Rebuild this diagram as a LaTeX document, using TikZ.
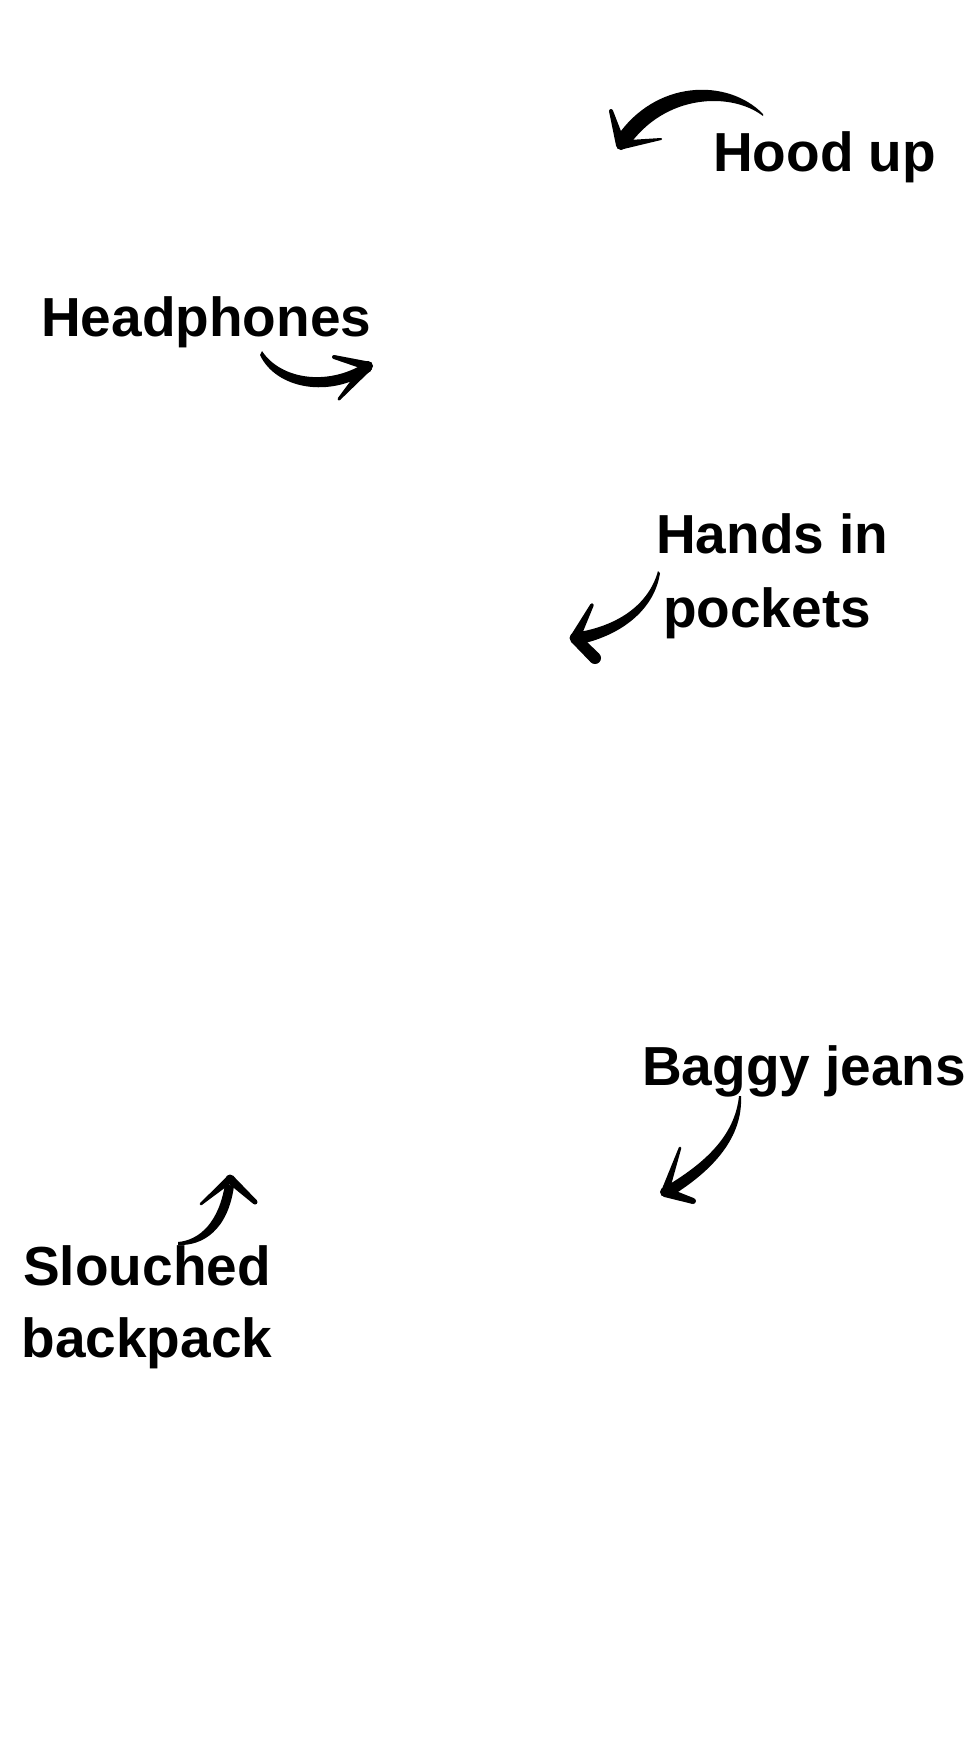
\documentclass[tikz,border=0pt]{standalone}
\usepackage{fontspec}
\setmainfont{Liberation Sans}
\usetikzlibrary{calc}
\newcommand\taperseg[4]{% A, B, half width at A, half width at B
  \fill[inkfill] ($(#1)!#3!90:(#2)$) -- ($(#2)!#4!-90:(#1)$) -- ($(#2)!#4!90:(#1)$) -- ($(#1)!#3!-90:(#2)$) -- cycle;
  \fill[inkfill] (#2) circle[radius=#4];
  \fill[inkfill] (#1) circle[radius=#3];}
\begin{document}
\begin{tikzpicture}[x=1pt,y=-1pt,
  lbl/.style={inner sep=0pt,anchor=base west,font=\fontsize{55}{60}\selectfont\bfseries,text=black},
  inkfill/.style={fill=black}]
\useasboundingbox[fill=white] (0,0) rectangle (966,1757);

% labels
\node[lbl] (hood) at (713,171) {Hood up};
\node[lbl] (headph) at (41,336) {Headphones};
\node[lbl] (hands1) at (656,553) {Hands in};
\node[lbl] (hands2) at (663,627) {pockets};
\node[lbl] (baggy) at (642,1085) {Baggy jeans};
\node[lbl,anchor=base] (slouch1) at (147,1285) {Slouched};
\node[lbl,anchor=base] (slouch2) at (147,1357) {backpack};

% arrow: hood up
\coordinate (h1a) at (611,111);
\coordinate (h1t) at (621,145);
\coordinate (h1b) at (661,139);
\fill[inkfill] (763,114) .. controls (728,78) and (655,79) .. (616,138)
  -- (628,147) .. controls (665,93) and (732,92) .. (763,116) -- cycle;
\taperseg{h1a}{h1t}{2pt}{5pt}
\taperseg{h1b}{h1t}{1pt}{4.5pt}

% arrow: headphones
\coordinate (p1a) at (334,357);
\coordinate (p1t) at (368,366);
\coordinate (p1b) at (339,399);
\fill[inkfill] (262,351) .. controls (281,380) and (330,387) .. (368,361)
  -- (371,371) .. controls (330,399) and (276,389) .. (260,355) -- cycle;
\taperseg{p1a}{p1t}{2pt}{4.5pt}
\taperseg{p1b}{p1t}{1.5pt}{5pt}

% arrow: hands in pockets
\coordinate (k1a) at (592,605);
\coordinate (k1t) at (575,638);
\coordinate (k1b) at (595,658);
\fill[inkfill] (658,571) .. controls (649,604) and (619,625) .. (579,632)
  -- (581,644) .. controls (625,634) and (655,607) .. (660,573) -- cycle;
\taperseg{k1a}{k1t}{1.8pt}{5pt}
\taperseg{k1t}{k1b}{5.5pt}{6pt}

% arrow: baggy jeans
\coordinate (b1a) at (680,1148);
\coordinate (b1t) at (665,1192);
\coordinate (b1b) at (693,1201);
\fill[inkfill] (739,1096) .. controls (735,1135) and (706,1163) .. (663,1188)
  -- (670,1197) .. controls (714,1170) and (743,1137) .. (741,1096) -- cycle;
\taperseg{b1a}{b1t}{1.3pt}{4pt}
\taperseg{b1t}{b1b}{5pt}{3pt}

% arrow: slouched backpack
\coordinate (s1a) at (201,1204);
\coordinate (s1t) at (230,1179);
\coordinate (s1b) at (255,1202);
\fill[inkfill] (178,1242) .. controls (200,1240) and (219,1222) .. (225,1184)
  -- (234,1186) .. controls (228,1230) and (203,1246) .. (178,1245) -- cycle;
\taperseg{s1a}{s1t}{1.3pt}{4pt}
\taperseg{s1t}{s1b}{4.5pt}{2.5pt}
\end{tikzpicture}
\end{document}
